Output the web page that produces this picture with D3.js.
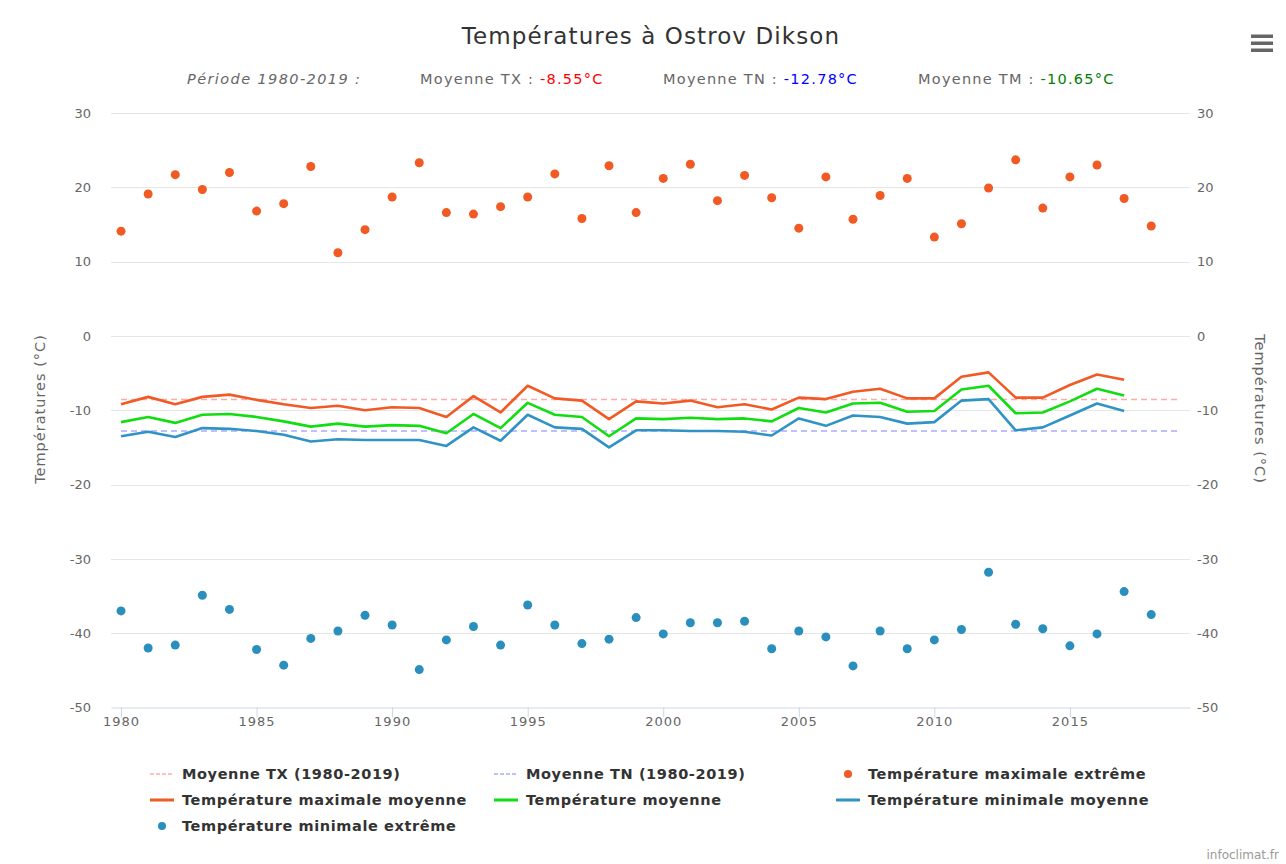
<!DOCTYPE html>
<html><head><meta charset="utf-8">
<script src="https://cdn.jsdelivr.net/npm/d3@7"></script>
<style>body{margin:0;background:#fff;}svg{display:block;font-family:"DejaVu Sans",sans-serif;}</style>
</head><body><svg id="c" width="1286" height="864"></svg>
<script>
const years = d3.range(1980, 2019);
const txExtreme = [14.1,19.1,21.7,19.7,22.0,16.8,17.8,22.8,11.2,14.3,18.7,23.3,16.6,16.4,17.4,18.7,21.8,15.8,22.9,16.6,
  21.2,23.1,18.2,21.6,18.6,14.5,21.4,15.7,18.9,21.2,13.3,15.1,19.9,23.7,17.2,21.4,23.0,18.5,14.8];
const tnExtreme = [-37.0,-42.0,-41.6,-34.9,-36.8,-42.2,-44.3,-40.7,-39.7,-37.6,-38.9,-44.9,-40.9,-39.1,-41.6,-36.2,-38.9,-41.4,-40.8,-37.9,
  -40.1,-38.6,-38.6,-38.4,-42.1,-39.7,-40.5,-44.4,-39.7,-42.1,-40.9,-39.5,-31.8,-38.8,-39.4,-41.7,-40.1,-34.4,-37.5];
const txMean = [-9.2,-8.2,-9.2,-8.2,-7.9,-8.6,-9.2,-9.7,-9.4,-10.0,-9.6,-9.7,-10.9,-8.1,-10.3,-6.7,-8.4,-8.7,-11.2,-8.8,
  -9.1,-8.7,-9.6,-9.2,-9.9,-8.3,-8.5,-7.5,-7.1,-8.4,-8.4,-5.5,-4.9,-8.3,-8.3,-6.6,-5.2,-5.9];
const tmMean = [-11.6,-10.9,-11.7,-10.6,-10.5,-10.9,-11.5,-12.2,-11.8,-12.2,-12.0,-12.1,-13.1,-10.5,-12.4,-9.0,-10.6,-10.9,-13.5,-11.1,
  -11.2,-11.0,-11.2,-11.1,-11.5,-9.7,-10.3,-9.1,-9.0,-10.2,-10.1,-7.2,-6.7,-10.4,-10.3,-8.8,-7.1,-8.0];
const tnMean = [-13.5,-12.9,-13.6,-12.4,-12.5,-12.8,-13.3,-14.2,-13.9,-14.0,-14.0,-14.0,-14.8,-12.3,-14.1,-10.6,-12.3,-12.5,-15.0,-12.7,
  -12.7,-12.8,-12.8,-12.9,-13.4,-11.1,-12.1,-10.7,-10.9,-11.8,-11.6,-8.7,-8.5,-12.7,-12.3,-10.7,-9.1,-10.1];
const meanYears = d3.range(1980, 2020);
const meanTX = -8.55, meanTN = -12.78, meanTM = -10.65;
const yTicks = [30,20,10,0,-10,-20,-30,-40,-50];
const xTicks = [1980,1985,1990,1995,2000,2005,2010,2015];

const svg = d3.select("#c");
const x = d3.scaleLinear().domain([1979.63, 2019.43]).range([111, 1190]);
const y = d3.scaleLinear().domain([-50, 30]).range([707.5, 113]);

// gridlines
svg.append("g").selectAll("line").data(yTicks.filter(d=>d!==-50)).join("line")
  .attr("x1",111).attr("x2",1190).attr("y1",d=>Math.round(y(d))+0.5).attr("y2",d=>Math.round(y(d))+0.5)
  .attr("stroke","#e6e6e6").attr("stroke-width",1);

// x axis
const xa = svg.append("g").attr("transform","translate(0,707.5)")
  .call(d3.axisBottom(x).tickValues(xTicks).tickFormat(d=>String(d)).tickSize(10).tickSizeOuter(0));
xa.select(".domain").attr("stroke","#ccd6eb");
xa.selectAll(".tick line").attr("stroke","#ccd6eb");
xa.selectAll("text").attr("fill","#666").attr("font-size","13px").attr("font-family","DejaVu Sans")
  .attr("letter-spacing","1px").attr("dy","0.45em");

// y axes labels
const yFmt = d => String(d);
const yl = svg.append("g").attr("transform","translate(91,0)")
  .call(d3.axisLeft(y).tickValues(yTicks).tickFormat(yFmt).tickSize(0));
yl.select(".domain").remove();
yl.selectAll("text").attr("fill","#666").attr("font-size","13px").attr("font-family","DejaVu Sans").attr("x",0);
const yr = svg.append("g").attr("transform","translate(1197,0)")
  .call(d3.axisRight(y).tickValues(yTicks).tickFormat(yFmt).tickSize(0));
yr.select(".domain").remove();
yr.selectAll("text").attr("fill","#666").attr("font-size","13px").attr("font-family","DejaVu Sans").attr("x",0);

svg.append("text").attr("transform","translate(45,409) rotate(-90)").attr("text-anchor","middle")
  .attr("fill","#666").attr("font-size","14.5px").attr("letter-spacing","1px").text("Températures (°C)");
svg.append("text").attr("transform","translate(1255,409) rotate(90)").attr("text-anchor","middle")
  .attr("fill","#666").attr("font-size","14.5px").attr("letter-spacing","1px").text("Températures (°C)");

// dashed means
const line = d3.line().x(d=>x(d[0])).y(d=>y(d[1]));
svg.append("path").datum(meanYears.map(yy=>[yy,meanTX])).attr("d",line)
  .attr("fill","none").attr("stroke","#ffaaaa").attr("stroke-width",1.5).attr("stroke-dasharray","6,4");
svg.append("path").datum(meanYears.map(yy=>[yy,meanTN])).attr("d",line)
  .attr("fill","none").attr("stroke","#aaaaff").attr("stroke-width",1.5).attr("stroke-dasharray","6,4");

// mean lines
const cTX = "#f15a24", cTM = "#11dd11", cTN = "#2f93c6";
[[txMean,cTX],[tmMean,cTM],[tnMean,cTN]].forEach(([arr,c])=>{
  svg.append("path").datum(arr.map((v,i)=>[years[i],v])).attr("d",line)
    .attr("fill","none").attr("stroke",c).attr("stroke-width",2.6).attr("stroke-linejoin","round");
});

// scatter
svg.append("g").selectAll("circle").data(txExtreme).join("circle")
  .attr("cx",(d,i)=>x(years[i])).attr("cy",d=>y(d)).attr("r",4.5).attr("fill","#f15a22");
svg.append("g").selectAll("circle").data(tnExtreme).join("circle")
  .attr("cx",(d,i)=>x(years[i])).attr("cy",d=>y(d)).attr("r",4.5).attr("fill","#2a8fbd");

// title
svg.append("text").attr("x",651).attr("y",44).attr("text-anchor","middle").attr("fill","#333")
  .attr("font-size","23px").attr("letter-spacing","1.1px").text("Températures à Ostrov Dikson");

// subtitle
const sub = svg.append("g").attr("font-size","14.5px").attr("fill","#666").attr("letter-spacing","1.25px");
sub.append("text").attr("x",187).attr("y",84).attr("font-style","italic").attr("letter-spacing","1.4px").text("Période 1980-2019 :");
const parts = [[420,"Moyenne TX : ",meanTX.toFixed(2)+"°C","#ff0000"],
               [663,"Moyenne TN : ",meanTN.toFixed(2)+"°C","#0000ff"],
               [918,"Moyenne TM : ",meanTM.toFixed(2)+"°C","#008000"]];
parts.forEach(([px,a,b,c])=>{
  const t = sub.append("text").attr("x",px).attr("y",84);
  t.append("tspan").text(a);
  t.append("tspan").attr("fill",c).text(b);
});

// hamburger
[36,43,50].forEach(yy=>svg.append("rect").attr("x",1251).attr("y",yy-1.5).attr("width",22).attr("height",3.5).attr("fill","#666"));

// legend
const legend = [
  {x:150,y:774,type:"dash",color:"#ffaaaa",label:"Moyenne TX (1980-2019)"},
  {x:494,y:774,type:"dash",color:"#aaaaff",label:"Moyenne TN (1980-2019)"},
  {x:836,y:774,type:"dot",color:"#f15a22",label:"Température maximale extrême"},
  {x:150,y:800,type:"line",color:cTX,label:"Température maximale moyenne"},
  {x:494,y:800,type:"line",color:cTM,label:"Température moyenne"},
  {x:836,y:800,type:"line",color:cTN,label:"Température minimale moyenne"},
  {x:150,y:826,type:"dot",color:"#2a8fbd",label:"Température minimale extrême"}
];
const lg = svg.append("g");
legend.forEach(d=>{
  const g = lg.append("g").attr("transform",`translate(${d.x},${d.y})`);
  if(d.type==="dot") g.append("circle").attr("cx",12).attr("cy",0).attr("r",4).attr("fill",d.color);
  else g.append("line").attr("x1",0).attr("x2",24).attr("y1",0).attr("y2",0).attr("stroke",d.color)
        .attr("stroke-width",d.type==="dash"?1.5:3).attr("stroke-dasharray",d.type==="dash"?"4,2":null);
  g.append("text").attr("x",32).attr("y",5).attr("font-size","14.5px").attr("font-weight","bold")
    .attr("letter-spacing","0.6px").attr("fill","#333").text(d.label);
});

svg.append("text").attr("x",1279).attr("y",859).attr("text-anchor","end").attr("fill","#999")
  .attr("font-size","12px").text("infoclimat.fr");
</script></body></html>
